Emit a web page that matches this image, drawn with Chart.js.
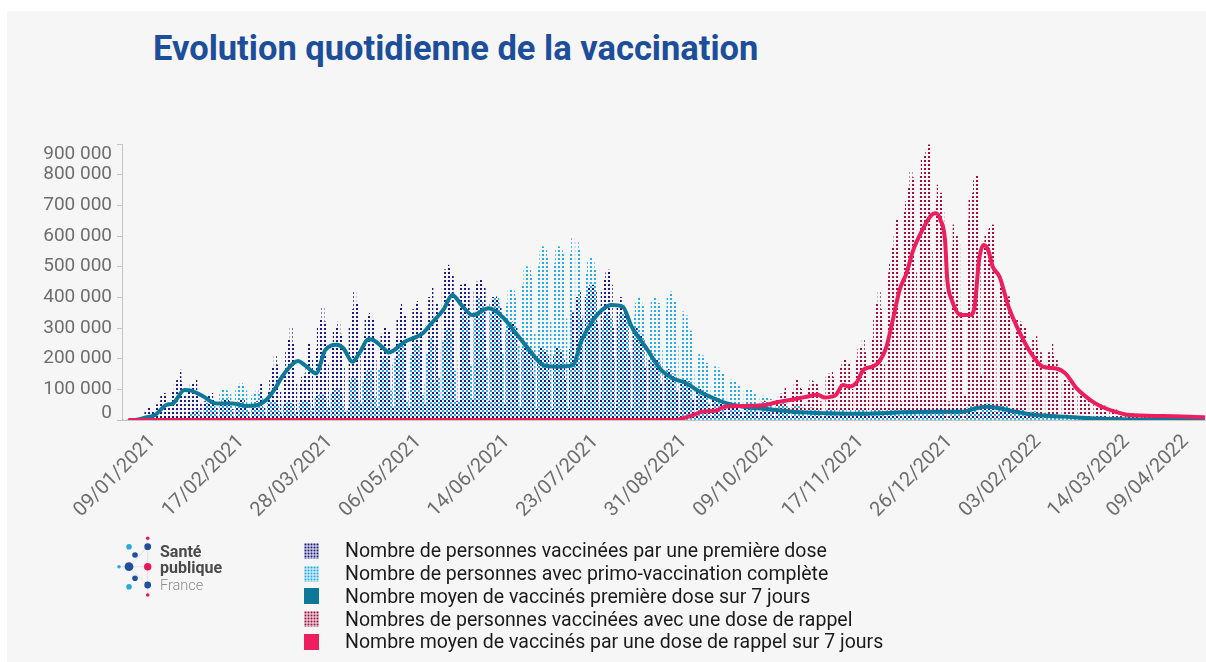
<!DOCTYPE html>
<html lang="fr"><head><meta charset="utf-8"><title>Evolution quotidienne de la vaccination</title>
<script src="https://cdn.jsdelivr.net/npm/chart.js@4.4.1/dist/chart.umd.min.js"></script>
<style>
html,body{margin:0;padding:0;background:#fff;width:1206px;height:662px;overflow:hidden;font-family:Roboto,"Noto Sans",sans-serif;}
#panel{position:absolute;left:7px;top:11px;width:1199px;height:651px;background:#f6f6f6;}
#title{position:absolute;left:153px;top:27.5px;font:700 34.5px Roboto;color:#1d4e9a;white-space:nowrap;}
#c{position:absolute;left:0;top:0;}
#logo{position:absolute;left:0;top:0;}
#legend{position:absolute;left:304px;top:539.6px;}
.row{height:22.75px;display:flex;align-items:center;font:19.5px Roboto;color:#1b1b1b;white-space:nowrap}
.row canvas{width:15px;height:16px;margin-right:26px;display:block}
</style></head>
<body>
<div id="panel"></div>
<div id="title">Evolution quotidienne de la vaccination</div>
<canvas id="c" width="1206" height="662"></canvas>
<svg id="logo" width="240" height="620" viewBox="0 0 240 620">
  <g stroke="#d9d9d9" stroke-width="0.8" fill="none">
    <line x1="147.7" y1="538" x2="147.7" y2="595"/>
    <line x1="129" y1="566.7" x2="147.7" y2="546.7"/>
    <line x1="129" y1="566.7" x2="147.7" y2="585"/>
    <line x1="119" y1="566.7" x2="147.7" y2="566.7"/>
  </g>
  <circle cx="147.7" cy="538.3" r="1.8" fill="#e8175d"/>
  <circle cx="129" cy="546.7" r="2.8" fill="#29abe2"/>
  <circle cx="147.7" cy="546.7" r="3.4" fill="#1f4fa0"/>
  <circle cx="135" cy="555" r="2.8" fill="#1f4fa0"/>
  <circle cx="119" cy="566.7" r="1.8" fill="#29abe2"/>
  <circle cx="129" cy="566.7" r="4.4" fill="#1f4fa0"/>
  <circle cx="147.7" cy="566.7" r="3.7" fill="#e8175d"/>
  <circle cx="135" cy="578.3" r="2.8" fill="#1f4fa0"/>
  <circle cx="129" cy="586.7" r="2.8" fill="#29abe2"/>
  <circle cx="147.7" cy="585" r="3.4" fill="#1f4fa0"/>
  <circle cx="147.7" cy="595" r="1.8" fill="#e8175d"/>
  <text x="160" y="556.5" font-family="Roboto" font-weight="700" font-size="16" fill="#4a4a4a">Santé</text>
  <text x="160" y="573.3" font-family="Roboto" font-weight="700" font-size="16" fill="#4a4a4a">publique</text>
  <text x="160" y="590" font-family="Roboto" font-weight="300" font-size="14.5" fill="#8c8c8c">France</text>
</svg>
<div id="legend"></div>
<script>
// ---------------- DATA (values in thousands of people) ----------------
const startDate = '27/12/2020';   // day 0 of the daily series
const tickLabels = ['09/01/2021','17/02/2021','28/03/2021','06/05/2021','14/06/2021','23/07/2021',
  '31/08/2021','09/10/2021','17/11/2021','26/12/2021','03/02/2022','14/03/2022','09/04/2022'];
const yTicks = [0,100,200,300,400,500,600,700,800,900];

const seriesNames = [
  'Nombre de personnes vaccinées par une première dose',
  'Nombre de personnes avec primo-vaccination complète',
  'Nombre moyen de vaccinés première dose sur 7 jours',
  'Nombres de personnes vaccinées avec une dose de rappel',
  'Nombre moyen de vaccinés par une dose de rappel sur 7 jours'
];

// daily first doses (one line = one week, Sunday..Saturday)
const firstDose = [
0,0,0,1,1,0,1,
1,6,12,25,40,43,25,
8,50,60,80,87,85,55,
15,95,120,135,163,125,80,
15,100,115,120,130,95,55,
10,60,75,80,87,70,40,
8,55,65,70,72,60,35,
8,50,60,68,65,55,30,
8,40,50,60,95,120,45,
12,90,130,170,212,180,90,
20,150,220,260,299,250,120,
30,120,140,150,170,250,200,
40,230,300,330,364,320,180,
45,250,290,300,320,280,170,
30,40,300,360,418,380,230,
50,280,330,340,348,330,200,
40,230,280,300,304,290,180,
40,270,330,370,380,340,90,
45,300,360,380,386,350,120,
50,330,400,435,300,380,230,
70,440,490,505,500,470,330,
60,200,440,446,445,430,300,
70,420,450,462,455,430,280,
60,380,400,402,395,370,250,
50,290,310,320,315,300,180,
40,230,245,240,235,225,140,
35,210,234,230,225,210,130,
35,210,234,230,220,200,130,
35,230,350,120,400,420,330,
80,400,430,440,440,420,320,
70,420,460,480,489,440,300,
60,380,400,380,360,330,220,
45,290,300,290,280,260,170,
30,200,215,210,200,190,120,
25,160,165,160,150,140,90,
20,130,135,130,125,115,70,
15,95,100,95,90,85,50,
12,70,72,70,65,60,35,
10,55,55,52,50,48,28,
8,48,48,46,45,42,25,
7,42,42,40,40,38,22,
6,36,37,36,35,33,20,
5,32,33,32,31,29,18,
5,29,30,29,28,26,16,
4,10,29,28,27,25,15,
4,27,28,27,10,24,14,
4,26,27,26,25,23,14,
4,27,28,28,27,25,15,
5,30,31,31,30,28,17,
5,32,33,33,32,30,18,
5,33,34,34,33,31,19,
5,35,36,36,35,20,3,
5,35,38,38,37,25,4,
6,40,42,44,45,42,28,
8,50,55,55,52,48,30,
7,42,44,42,40,37,22,
5,30,31,30,29,27,16,
3,20,21,20,19,18,10,
2,15,16,15,14,13,8,
2,12,13,12,12,11,6,
1,9,9,9,8,8,4,
1,6,7,6,6,5,3,
0.5,4,4,4,4,3,2,
0.5,3,3,3,3,2,1,
0.4,2.5,2.5,2.5,2.4,2,1,
0.3,2,2,2,2,1.8,0.8,
0.3,1.8,1.8,1.8,1.7,1.5,0.7,
0.3,1.5,1.5,1.5,1.5,1.2,0.6,
0.2];

// daily completed primary vaccinations
const primoComplete = [
0,0,0,0,0,0,0,
0,0,0,0,0,0,0,
0,0,0,0,0,0,0,
0,0.5,1,2,3,4,2,
1,10,18,25,28,30,15,
3,40,55,60,62,58,30,
5,90,103,100,95,90,45,
6,100,115,120,110,95,50,
5,80,90,95,85,75,40,
4,55,60,62,58,50,28,
4,50,55,58,55,48,25,
4,55,62,65,62,55,28,
6,70,80,85,82,75,40,
8,85,100,103,100,90,50,
8,30,125,141,135,120,60,
10,130,155,163,160,145,75,
12,165,195,206,200,180,95,
15,200,240,250,245,225,60,
15,210,245,250,240,220,80,
15,220,260,270,120,240,140,
20,260,290,300,295,280,160,
20,60,330,348,340,320,180,
25,330,380,400,390,370,200,
25,350,395,402,400,380,220,
30,380,420,424,420,400,240,
35,440,490,500,495,470,280,
40,500,550,565,560,530,320,
40,510,555,565,560,540,330,
45,540,592,200,581,560,340,
40,480,520,527,516,490,300,
35,300,340,350,345,330,200,
35,310,345,350,345,335,210,
35,340,380,397,390,370,220,
30,350,390,402,395,380,230,
30,360,400,418,410,390,240,
25,300,353,340,315,290,170,
18,200,217,210,200,185,110,
14,160,174,170,165,150,85,
12,120,130,128,125,115,65,
10,95,103,100,98,90,50,
8,72,78,76,74,68,38,
6,55,60,58,56,52,28,
5,42,46,45,44,40,22,
4,36,40,39,38,35,19,
4,10,37,36,35,32,17,
4,33,36,35,12,31,16,
4,32,34,33,32,30,16,
4,32,35,34,33,30,16,
4,33,36,35,34,31,17,
4,34,37,36,35,32,18,
4,35,38,37,36,33,18,
4,36,38,37,35,20,2,
3,34,36,35,34,18,2,
4,40,44,45,44,42,24,
5,48,52,53,52,48,28,
5,45,48,48,46,43,25,
4,36,38,38,36,34,19,
3,26,28,28,26,24,14,
2,20,21,21,20,18,10,
2,15,16,16,15,14,8,
1,11,12,11,11,10,5,
1,8,8,8,8,7,4,
1,6,6,6,6,5,3,
0.5,4,4,4,4,3.5,2,
0.5,3,3,3,3,2.5,1.5,
0.4,2.5,2.5,2.5,2.4,2,1,
0.3,2,2,2,2,1.8,0.8,
0.3,1.8,1.8,1.8,1.7,1.5,0.7,
0.2];

// daily booster doses
const booster = [
0,0,0,0,0,0,0, 0,0,0,0,0,0,0, 0,0,0,0,0,0,0, 0,0,0,0,0,0,0, 0,0,0,0,0,0,0,
0,0,0,0,0,0,0, 0,0,0,0,0,0,0, 0,0,0,0,0,0,0, 0,0,0,0,0,0,0, 0,0,0,0,0,0,0,
0,0,0,0,0,0,0, 0,0,0,0,0,0,0, 0,0,0,0,0,0,0, 0,0,0,0,0,0,0, 0,0,0,0,0,0,0,
0,0,0,0,0,0,0, 0,0,0,0,0,0,0, 0,0,0,0,0,0,0, 0,0,0,0,0,0,0, 0,0,0,0,0,0,0,
0,0,0,0,0,0,0, 0,0,0,0,0,0,0, 0,0,0,0,0,0,0, 0,0,0,0,0,0,0, 0,0,0,0,0,0,0,
0,0,0,0,0,0,0, 0,0,0,0,0,0,0, 0,0,0,0,0,0,0, 0,0,0,0,0,0,0, 0,0,0,0,0,0,0,
0,0,0,0,0,0,0, 0,0,0,0,0,0,0, 0,0,0,0,0,0,0, 0,0,0,0,0,0,0, 0,0,0,0,0,0,0,
0,0,0,18,22,25,12,
3,30,32,33,30,28,15,
4,35,38,36,35,32,18,
5,50,55,55,52,48,28,
5,55,58,56,55,50,30,
6,58,62,60,58,55,32,
7,70,80,85,95,103,40,
8,95,120,130,110,100,50,
10,110,130,125,120,115,60,
8,20,140,150,158,140,70,
12,170,190,201,45,185,100,
15,200,230,240,261,220,120,
20,260,330,380,418,360,180,
40,480,511,560,600,652,350,
60,680,712,760,810,790,480,
80,800,853,860,880,897,550,
196,720,766,740,680,420,20,
60,560,636,600,580,350,30,
80,650,723,740,780,799,520,
147,560,603,620,630,636,400,
60,430,440,420,410,402,260,
40,300,326,320,310,300,190,
25,230,260,272,240,220,140,
20,190,220,250,215,200,110,
15,120,130,125,120,110,65,
10,82,85,80,78,72,40,
6,55,55,52,50,46,26,
4,34,35,33,32,30,16,
3,22,22,21,20,19,10,
2,17,17,16,16,15,8,
2,16,16,15,15,14,7,
2,15,15,14,14,13,6,
2,13,13,12,12,11,5,
1];

// 7-day averages: day index and value
const avgFirstDays = [3,6,10,14,19,22,27,30,35,41,48,54,58,63,67,70,75,77,80,85,89,94,97,101,104,108,110,114,117,124,132,136,141,145,149,154,161,167,173,179,185,191,198,202,207,211,215,220,224,230,237,242,248,254,260,266,273,280,295,310,324,339,356,362,370,374,380,386,393,402,414,428,443,476];
const avgFirstVals = [0,1,8,16,49,54,98,96,78,54,54,46,47,65,103,141,185,192,179,152,228,245,234,190,217,263,261,239,220,255,283,317,359,408,375,342,364,337,283,228,179,174,179,261,326,359,375,370,304,239,163,136,120,92,71,54,43,38,27,22,20,24,27,27,27,35,43,38,27,16,11,5,2,1];
const avgBoostDays = [3,244,245,251,255,261,265,274,283,287,295,301,306,309,312,314,317,320,323,326,330,333,336,339,342,345,348,352,356,358,360,362,363,365,369,373,375,377,379,381,383,386,390,395,399,405,411,415,420,426,431,437,443,458,476];
const avgBoostVals = [0,0,2,16,27,30,43,46,49,56,67,76,82,73,76,82,114,109,122,163,174,190,234,326,424,478,554,619,668,674,652,587,456,391,342,342,369,522,571,554,500,467,369,283,228,174,168,152,103,65,43,27,16,13,9];

// ---------------- helpers ----------------
function parseDay(s){ const [d,m,y]=s.split('/').map(Number); return new Date(y,m-1,d); }
const t0 = parseDay(startDate);
const dayOf = s => Math.round((parseDay(s)-t0)/86400000);
const nDays = firstDose.length;
const toXY = arr => arr.map((v,i)=>({x:i,y:v}));
const pairXY = (xs,ys) => xs.map((x,i)=>({x:x,y:ys[i]}));

const COLORS = {navy:'#1c1a7e', sky:'#22ade6', teal:'#0e7899', crimson:'#a10e3e', pink:'#ec1e5e'};

function dotPattern(color, ox, oy){
  const c=document.createElement('canvas'); c.width=4; c.height=4;
  const g=c.getContext('2d'); g.fillStyle=color;
  g.fillRect(ox,oy,2,2);
  return document.getElementById('c').getContext('2d').createPattern(c,'repeat');
}

const yLabelPlugin = {
  id:'yLabels',
  afterDraw(chart){
    const s=chart.scales.y, ctx=chart.ctx;
    ctx.save();
    ctx.font='19px Roboto'; ctx.fillStyle='#6e6e6e';
    ctx.textAlign='right'; ctx.textBaseline='middle';
    s.ticks.forEach(t=>{
      let y=s.getPixelForValue(t.value);
      y=Math.min(Math.max(y, s.top+10), s.bottom-6.5);
      ctx.fillText(t.value===0?'0':t.value+' 000', s.right-10, y);
    });
    ctx.restore();
  }
};

const barCommon = {type:'bar', borderWidth:0, grouped:false, barPercentage:1, categoryPercentage:1};

const chart = new Chart(document.getElementById('c'), {
  type:'bar',
  data:{datasets:[
    Object.assign({label:seriesNames[0], data:toXY(firstDose), backgroundColor:dotPattern(COLORS.navy,0,0), order:3}, barCommon),
    Object.assign({label:seriesNames[1], data:toXY(primoComplete), backgroundColor:dotPattern(COLORS.sky,2,2), order:2}, barCommon),
    {type:'line', label:seriesNames[2], data:pairXY(avgFirstDays,avgFirstVals), borderColor:COLORS.teal, backgroundColor:COLORS.teal,
      borderWidth:4, pointRadius:0, cubicInterpolationMode:'monotone', borderCapStyle:'round', borderJoinStyle:'round', order:1},
    Object.assign({label:seriesNames[3], data:toXY(booster), backgroundColor:dotPattern(COLORS.crimson,0,0), order:4}, barCommon),
    {type:'line', label:seriesNames[4], data:pairXY(avgBoostDays,avgBoostVals), borderColor:COLORS.pink, backgroundColor:COLORS.pink,
      borderWidth:4, pointRadius:0, cubicInterpolationMode:'monotone', borderCapStyle:'round', borderJoinStyle:'round', order:0}
  ]},
  options:{
    responsive:false, animation:false, devicePixelRatio:1,
    layout:{padding:{left:0,right:1,top:144,bottom:142}},
    plugins:{legend:{display:false}, tooltip:{enabled:false}, title:{display:false}},
    scales:{
      x:{type:'linear', min:-0.5, max:nDays-0.5, offset:false,
        grid:{display:false, drawTicks:false},
        border:{display:true, color:'#c4c4c4', width:1},
        afterBuildTicks:(s)=>{ s.ticks = tickLabels.map(l=>({value:dayOf(l)})); },
        afterFit:(s)=>{ s.height=100; s.paddingLeft=0; s.paddingRight=0; },
        ticks:{autoSkip:false, minRotation:45, maxRotation:45, padding:10, color:'#6e6e6e',
          font:{family:'Roboto', size:20},
          callback:(v,i)=>tickLabels[i]}
      },
      y:{type:'linear', min:0, max:900,
        afterBuildTicks:(s)=>{ s.ticks = yTicks.map(v=>({value:v})); },
        afterFit:(s)=>{ s.width=122; },
        grid:{display:true, drawOnChartArea:false, drawTicks:true, tickLength:5, color:'#c4c4c4'},
        border:{display:true, color:'#c4c4c4', width:1},
        ticks:{display:false}
      }
    }
  },
  plugins:[yLabelPlugin]
});

// HTML legend built from the datasets
const legend=document.getElementById('legend');
[0,1,2,3,4].forEach(i=>{
  const ds=chart.data.datasets[i];
  const row=document.createElement('div'); row.className='row';
  const sw=document.createElement('canvas'); sw.width=15; sw.height=16;
  const g=sw.getContext('2d');
  const col=[COLORS.navy,COLORS.sky,COLORS.teal,COLORS.crimson,COLORS.pink][i];
  g.fillStyle=col;
  if(ds.type==='line'){ g.fillRect(0,0,15,16); }
  else { for(let x=0;x<15;x+=3){ for(let y=0;y<16;y+=3){ g.fillRect(x+0.5,y+0.5,2,2); } } }
  const tx=document.createElement('span'); tx.textContent=ds.label;
  row.appendChild(sw); row.appendChild(tx); legend.appendChild(row);
});
</script>
</body></html>
